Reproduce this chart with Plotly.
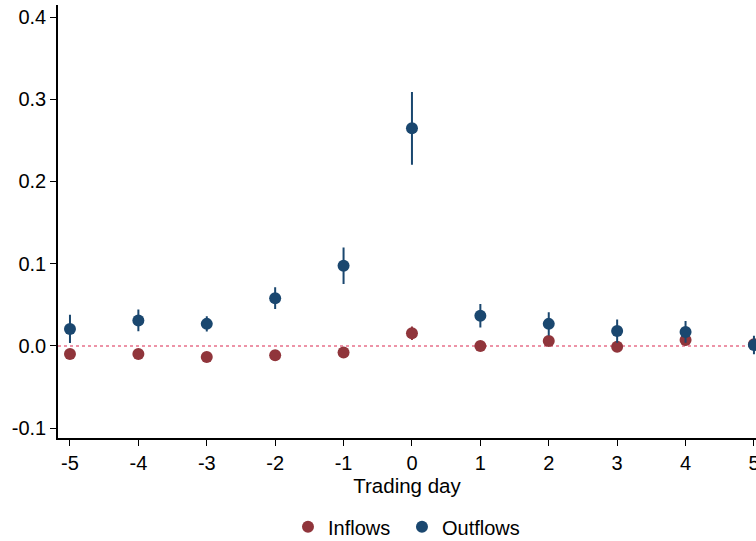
import plotly.graph_objects as go

days = [-5, -4, -3, -2, -1, 0, 1, 2, 3, 4, 5]
inflows = [-0.0098, -0.0098, -0.0134, -0.0114, -0.0081, 0.0155, 0.0, 0.006, -0.001, 0.0073, 0.002]
inflows_err = [0.003, 0.003, 0.003, 0.004, 0.003, 0.007, 0.004, 0.005, 0.003, 0.006, 0.004]
outflows = [0.0207, 0.031, 0.0268, 0.058, 0.0976, 0.2646, 0.0366, 0.0268, 0.018, 0.017, 0.001]
outflows_err = [0.016, 0.012, 0.008, 0.012, 0.021, 0.043, 0.013, 0.013, 0.013, 0.012, 0.010]

y_ticks = [-0.1, 0.0, 0.1, 0.2, 0.3, 0.4]
x_ticks = [-5, -4, -3, -2, -1, 0, 1, 2, 3, 4, 5]

maroon = "#90353b"
navy = "#1a476f"

fig = go.Figure()
fig.add_trace(go.Scatter(
    x=days, y=inflows, mode="markers", name="Inflows", legend="legend",
    marker=dict(color=maroon, size=12),
    error_y=dict(type="data", array=inflows_err, color=maroon, thickness=2, width=1),
))
fig.add_trace(go.Scatter(
    x=days, y=outflows, mode="markers", name="Outflows", legend="legend2",
    marker=dict(color=navy, size=12),
    error_y=dict(type="data", array=outflows_err, color=navy, thickness=2, width=1),
))

fig.add_shape(type="line", xref="paper", x0=0, x1=1, yref="y", y0=0, y1=0,
              line=dict(color="#e8708a", width=1.5, dash="dot"), layer="below")

leg_common = dict(orientation="h", xanchor="left", y=-0.205, yanchor="middle",
                  font=dict(size=20), itemwidth=30, bgcolor="rgba(0,0,0,0)")

fig.update_layout(
    width=756, height=541,
    margin=dict(l=58, r=0, t=5, b=103, autoexpand=False),
    paper_bgcolor="white", plot_bgcolor="white",
    font=dict(family="Liberation Sans, Arial", size=20, color="black"),
    showlegend=True,
    legend=dict(x=0.3295, **leg_common),
    legend2=dict(x=0.4928, **leg_common),
    xaxis=dict(range=[-5.175, 5.03], tickvals=x_ticks, ticktext=[str(v) for v in x_ticks],
               showline=True, linecolor="black", linewidth=1.5, ticks="outside", ticklen=6,
               tickcolor="black", showgrid=False, zeroline=False, automargin=False,
               ticklabeloverflow="allow",
               title=dict(text="Trading day", standoff=6, font=dict(size=20.5))),
    yaxis=dict(range=[-0.112, 0.4146], tickvals=y_ticks, ticktext=["-0.1", "0.0", "0.1", "0.2", "0.3", "0.4"],
               showline=True, linecolor="black", linewidth=1.5, ticks="outside", ticklen=6,
               tickcolor="black", showgrid=False, zeroline=False, automargin=False),
)

fig.write_html("out.html", config={"displayModeBar": False},
               post_script="document.body.style.margin='0';document.body.style.overflow='hidden';")
